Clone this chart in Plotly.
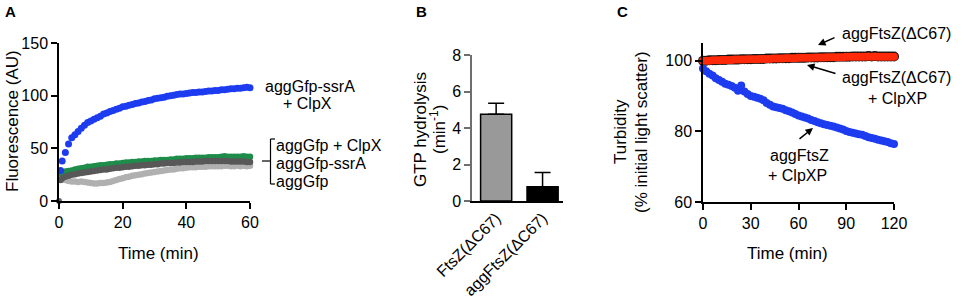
import plotly.graph_objects as go

# ---------------- Data ----------------
# Panel A: fluorescence (AU) vs time (min)
tA = [0.5, 1, 2, 3, 4, 5, 6, 7, 8, 9, 10, 11, 12, 13, 14, 15, 16, 17, 18, 19, 20,
      21, 22, 23, 24, 25, 26, 27, 28, 29, 30, 31, 32, 33, 34, 35, 36, 37, 38, 39, 40,
      41, 42, 43, 44, 45, 46, 47, 48, 49, 50, 51, 52, 53, 54, 55, 56, 57, 58, 59, 60]
ssrA_clpx = [29, 38, 46, 54, 60, 63, 66, 69, 72, 74.5, 76, 77.5, 79, 80.5, 82.5, 83.5, 85, 86, 87, 88, 89.5,
             90, 91, 91.5, 92.5, 93, 94, 94.5, 95.5, 96, 97, 97.5, 98, 98.5, 99.5, 100, 100.5, 101, 101.5, 101.5, 102,
             102.5, 103, 103, 103.5, 103.5, 104, 104.5, 104.5, 105, 105, 105.5, 105.5, 106, 106.5, 106.5, 107, 107, 107.5, 108, 107.5]
gfp_clpx = [26, 27, 28, 28.5, 29, 30, 30.5, 31, 31.5, 32.5, 32.5, 33, 33.5, 34, 34, 34.5, 35, 35, 35.5, 35.5, 36,
            36.5, 36.5, 37, 37, 37.5, 37.5, 38, 38, 38, 38.5, 38.5, 39, 39, 39, 39.5, 39.5, 40, 40, 40, 40.5,
            40.5, 40.5, 41, 41, 41, 41, 41.5, 41.5, 41.5, 41.5, 42, 42.5, 42, 42, 42, 42, 42, 42.5, 42, 42]
gfp_ssrA = [20, 21.5, 23, 24, 25, 25.5, 26, 26.5, 27, 27.5, 28, 28.5, 29, 29.5, 30, 30, 30.5, 31, 31.5, 31.5, 32,
            32.5, 32.5, 33, 33.5, 33.5, 34, 34, 34.5, 34.5, 35, 35, 35.5, 35.5, 36, 36, 36, 36.5, 36.5, 37, 37,
            37, 37, 37.5, 37.5, 37.5, 38, 38, 38, 38, 38, 38, 38, 38, 37.5, 37.5, 37.5, 37.5, 37.5, 37, 37]
gfp_only = [21, 21, 20, 19, 18.5, 18.5, 18, 18.5, 18, 17.5, 17, 16.5, 16.5, 17, 17, 17.5, 18, 19, 20, 21, 21.5,
            22.5, 23, 24, 24.5, 25, 25.5, 26, 26.5, 27, 27.5, 28, 28.5, 29, 29.5, 30, 30, 30.5, 31, 31, 31.5,
            32, 32, 32, 32.5, 32.5, 32.5, 33, 33, 33, 33, 33, 33.5, 33.5, 33, 33, 33.5, 33, 33.5, 33, 33.5]
origin_x = [0]
origin_y = [0]

# Panel B: GTP hydrolysis (min^-1)
catB = ["FtsZ(ΔC67)", "aggFtsZ(ΔC67)"]
gtp_rate = [4.75, 0.78]
gtp_err = [0.6, 0.78]

# Panel C: turbidity (% initial light scatter) vs time (min)
tC = [0, 2, 4, 6, 8, 10, 12, 14, 16, 18, 20, 22, 24, 26, 28, 30, 32, 34, 36, 38, 40,
      42, 44, 46, 48, 50, 52, 54, 56, 58, 60, 62, 64, 66, 68, 70, 72, 74, 76, 78, 80,
      82, 84, 86, 88, 90, 92, 94, 96, 98, 100, 102, 104, 106, 108, 110, 112, 114, 116, 118, 120]
ftsz_clpxp = [97.8, 97, 96.3, 95.8, 95, 94.5, 94, 93.5, 93.2, 92.8, 92.3, 91.5, 93, 91.3, 90.6, 90, 89.8, 89.5, 89.2, 88.8, 88,
              87.5, 87, 86.8, 86.6, 86.4, 86, 85.7, 85.3, 84.9, 84.5, 84.2, 83.9, 83.6, 83.2, 82.9, 82.6, 82.3, 82, 81.8, 81.6,
              81.4, 81.1, 80.8, 80.5, 80.1, 79.8, 79.6, 79.4, 79.2, 79, 78.7, 78.3, 78.1, 77.9, 77.6, 77.4, 77.2, 77, 76.6, 76.4]
dC67 = [100.0, 100.0, 100.1, 100.1, 100.1, 100.2, 100.2, 100.2, 100.3, 100.3, 100.3, 100.3, 100.4, 100.4, 100.4, 100.4,
        100.5, 100.5, 100.5, 100.5, 100.6, 100.6, 100.6, 100.6, 100.7, 100.7, 100.7, 100.7, 100.8, 100.8, 100.8, 100.8,
        100.8, 100.9, 100.9, 100.9, 100.9, 101.0, 101.0, 101.0, 101.0, 101.0, 101.1, 101.1, 101.1, 101.1, 101.1, 101.2,
        101.2, 101.2, 101.2, 101.2, 101.3, 101.2, 101.3, 101.2, 101.2, 101.2, 101.2, 101.2, 101.2]
dC67_clpxp = [100.0, 100.0, 100.0, 100.1, 100.1, 100.1, 100.2, 100.2, 100.2, 100.2, 100.3, 100.3, 100.3, 100.3, 100.4, 100.4,
              100.4, 100.4, 100.5, 100.5, 100.5, 100.5, 100.6, 100.6, 100.6, 100.6, 100.7, 100.7, 100.7, 100.7, 100.8, 100.8,
              100.8, 100.8, 100.8, 100.9, 100.9, 100.9, 100.9, 101.0, 101.0, 101.0, 101.0, 101.0, 101.0, 101.1, 101.1, 101.1,
              101.1, 101.1, 101.1, 101.1, 101.2, 101.1, 101.2, 101.1, 101.1, 101.1, 101.1, 101.1, 101.1]

# ---------------- Figure ----------------
W, H = 964, 296
FONT = "Liberation Sans, Arial, sans-serif"


def px(x):
    return x / W


def py(y):
    return 1 - y / H


fig = go.Figure()

# Panel A traces
def scatA(y, color, size=6.5):
    return go.Scatter(x=tA, y=y, mode="markers", xaxis="x", yaxis="y", cliponaxis=False,
                      marker=dict(color=color, size=size, line=dict(width=0)), showlegend=False)

fig.add_trace(scatA(gfp_clpx, "#1e8c4a"))
fig.add_trace(scatA(gfp_only, "#b0b0b0"))
fig.add_trace(scatA(gfp_ssrA, "#585858"))
fig.add_trace(scatA(ssrA_clpx, "#1d3cf0", 7))
fig.add_trace(go.Scatter(x=origin_x, y=origin_y, mode="markers", xaxis="x", yaxis="y", cliponaxis=False,
                         marker=dict(color="#5c6272", size=6), showlegend=False))

# Panel B
fig.add_trace(go.Bar(x=catB, y=gtp_rate, xaxis="x2", yaxis="y2", width=0.67,
                     marker=dict(color=["#999999", "#000000"], line=dict(color="#000000", width=1.5)),
                     error_y=dict(type="data", array=gtp_err, arrayminus=[0, 0], symmetric=False,
                                  color="#000000", thickness=1.5, width=8),
                     showlegend=False))

# Panel C traces
fig.add_trace(go.Scatter(x=tC, y=dC67, mode="markers", xaxis="x3", yaxis="y3", cliponaxis=False,
                         marker=dict(color="#111111", size=10, line=dict(width=0)), showlegend=False))
fig.add_trace(go.Scatter(x=tC, y=dC67_clpxp, mode="markers", xaxis="x3", yaxis="y3", cliponaxis=False,
                         marker=dict(color="#ff2a0a", size=8, line=dict(width=0)), showlegend=False))
fig.add_trace(go.Scatter(x=tC, y=ftsz_clpxp, mode="markers", xaxis="x3", yaxis="y3", cliponaxis=False,
                         marker=dict(color="#1d3cf0", size=8, line=dict(width=0)), showlegend=False))

axis_common = dict(showline=True, linecolor="#000000", linewidth=1.5, ticks="outside", ticklen=6,
                   tickwidth=1.5, tickcolor="#000000", showgrid=False, zeroline=False, automargin=False,
                   tickfont=dict(family=FONT, size=16, color="#000000"))

fig.update_layout(
    width=W, height=H, margin=dict(l=0, r=0, t=0, b=0, autoexpand=False),
    paper_bgcolor="white", plot_bgcolor="white",
    font=dict(family=FONT, size=16, color="#000000"),
    xaxis=dict(domain=[px(59), px(250)], range=[0, 60], tickvals=[0, 20, 40, 60], anchor="y", **axis_common),
    yaxis=dict(domain=[py(201), py(43)], range=[0, 150], tickvals=[0, 50, 100, 150], anchor="x", **axis_common),
    xaxis2=dict(domain=[px(472), px(563)], range=[-0.52, 1.44], type="category", anchor="y2",
                tickangle=-45, **{**axis_common, "ticks": ""}),
    yaxis2=dict(domain=[py(201), py(55)], range=[0, 8], tickvals=[0, 2, 4, 6, 8], anchor="x2",
                **{**axis_common, "linecolor": "#6e6e6e", "tickcolor": "#6e6e6e"}),
    xaxis3=dict(domain=[px(703), px(894)], range=[0, 120], tickvals=[0, 30, 60, 90, 120], anchor="y3", **axis_common),
    yaxis3=dict(domain=[py(202), py(43)], range=[60, 105], tickvals=[60, 80, 100], anchor="x3", **axis_common),
)

ann = []


def text(x, y, s, size=16, xanchor="center", angle=0, bold=False):
    ann.append(dict(x=px(x), y=py(y), xref="paper", yref="paper", text=("<b>%s</b>" % s) if bold else s,
                    showarrow=False, xanchor=xanchor, yanchor="middle", textangle=angle,
                    font=dict(family=FONT, size=size, color="#000000")))


def arrow(hx, hy, tx, ty):
    ann.append(dict(x=px(hx), y=py(hy), xref="paper", yref="paper", text="", showarrow=True,
                    ax=tx - hx, ay=ty - hy, axref="pixel", ayref="pixel",
                    arrowhead=2, arrowsize=1, arrowwidth=1.5, arrowcolor="#000000", standoff=0))


# panel letters
text(10, 11, "A", size=15, bold=True)
text(421, 11, "B", size=15, bold=True)
text(622, 11, "C", size=15, bold=True)

# panel A titles / labels
text(12, 121, "Fluorescence (AU)", size=17, angle=-90)
text(158, 253, "Time (min)", size=17)
text(310, 87, "aggGfp-ssrA")
text(307, 104, "+ ClpX")
text(274, 145, "aggGfp + ClpX", xanchor="left")
text(274, 163, "aggGfp-ssrA", xanchor="left")
text(274, 181, "aggGfp", xanchor="left")

# panel B titles
text(420, 130, "GTP hydrolysis", size=17, angle=-90)
text(438, 130, "(min<sup>-1</sup>)", size=17, angle=-90)

# panel C titles / labels
text(620, 132, "Turbidity", size=17, angle=-90)
text(641, 132, "(% initial light scatter)", size=17, angle=-90)
text(787, 253, "Time (min)", size=17)
text(840, 33, "aggFtsZ(ΔC67)", xanchor="left")
text(840, 78, "aggFtsZ(ΔC67)", xanchor="left")
text(897, 98, "+ ClpXP")
text(799, 155, "aggFtsZ")
text(797, 175, "+ ClpXP")
arrow(818, 45, 836, 37)
arrow(807, 65, 837, 74)
arrow(813, 128, 798, 140)

fig.update_layout(annotations=ann)

# bracket for grouped labels in panel A
bk = dict(type="line", xref="paper", yref="paper", line=dict(color="#000000", width=1.2))
shapes = [
    dict(x0=px(270.5), x1=px(270.5), y0=py(139), y1=py(184), **bk),
    dict(x0=px(270.5), x1=px(275), y0=py(139), y1=py(139), **bk),
    dict(x0=px(270.5), x1=px(275), y0=py(184), y1=py(184), **bk),
    dict(x0=px(262), x1=px(270.5), y0=py(161), y1=py(161), **bk),
]
fig.update_layout(shapes=shapes)

# remove the browser's default 8 px body margin so the figure sits at the window's top-left
fig.write_html("out.html", config={"displayModeBar": False},
               post_script="document.body.style.margin='0';document.body.style.overflow='hidden';")
